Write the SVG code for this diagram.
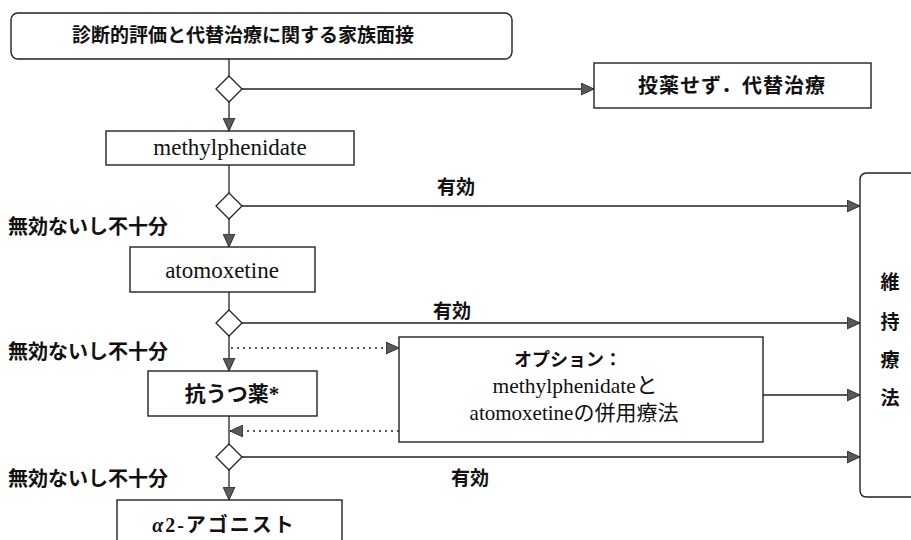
<svg xmlns="http://www.w3.org/2000/svg" width="911" height="540" viewBox="0 0 911 540">
<defs>
<marker id="arr" viewBox="0 0 12 12" refX="12" refY="6" markerWidth="13" markerHeight="13" markerUnits="userSpaceOnUse" orient="auto">
<path d="M0,0.5 L12,6 L0,11.5 Z" fill="#5a5a5a" stroke="#222" stroke-width="0.8"/>
</marker>
</defs>
<style>
.box{fill:#fff;stroke:#222;stroke-width:1.4}
.dia{fill:#fff;stroke:#222;stroke-width:1.3}
.ln{fill:none;stroke:#222;stroke-width:1.3}
.dot{fill:none;stroke:#222;stroke-width:1.3;stroke-dasharray:2 4}
.jp{font-family:"Liberation Serif","Noto Sans CJK JP",serif;font-weight:bold;fill:#111}
.en{font-family:"Liberation Serif","Noto Sans CJK JP",serif;fill:#111}
</style>
<rect width="911" height="540" fill="#fff"/>
<g id="connectors">
<line class="ln" x1="229" y1="59" x2="229" y2="76"/>
<line class="ln" x1="242" y1="89" x2="594" y2="89" marker-end="url(#arr)"/>
<line class="ln" x1="229" y1="102" x2="229" y2="131" marker-end="url(#arr)"/>
<line class="ln" x1="229" y1="165" x2="229" y2="193"/>
<line class="ln" x1="242" y1="206" x2="860" y2="206" marker-end="url(#arr)"/>
<line class="ln" x1="229" y1="219" x2="229" y2="247" marker-end="url(#arr)"/>
<line class="ln" x1="229" y1="292" x2="229" y2="310"/>
<line class="ln" x1="242" y1="323" x2="860" y2="323" marker-end="url(#arr)"/>
<line class="ln" x1="229" y1="336" x2="229" y2="371" marker-end="url(#arr)"/>
<line class="dot" x1="231" y1="348" x2="399" y2="348" marker-end="url(#arr)"/>
<line class="ln" x1="763" y1="395" x2="860" y2="395" marker-end="url(#arr)"/>
<line class="ln" x1="229" y1="416" x2="229" y2="444"/>
<line class="dot" x1="399" y1="431" x2="230" y2="431" marker-end="url(#arr)"/>
<line class="ln" x1="242" y1="457" x2="860" y2="457" marker-end="url(#arr)"/>
<line class="ln" x1="229" y1="470" x2="229" y2="500" marker-end="url(#arr)"/>
</g>
<g id="n-start">
<rect class="box" x="11" y="13" width="501" height="46" rx="7"/>
<text class="jp" x="243" y="42" font-size="19" text-anchor="middle">診断的評価と代替治療に関する家族面接</text>
</g>
<g id="d1"><polygon class="dia" points="229,76 242,89 229,102 216,89"/></g>
<g id="n-nomed">
<rect class="box" x="594" y="63" width="277" height="45"/>
<text class="jp" x="732" y="93" font-size="20" text-anchor="middle" letter-spacing="1">投薬せず．代替治療</text>
</g>
<g id="n-mph">
<rect class="box" x="106" y="131" width="248" height="34"/>
<text class="en" x="230" y="155" font-size="23" text-anchor="middle">methylphenidate</text>
</g>
<g id="d2"><polygon class="dia" points="229,193 242,206 229,219 216,206"/></g>
<g id="l1">
<text class="jp" x="456" y="194" font-size="19" text-anchor="middle">有効</text>
<text class="jp" x="8" y="234" font-size="20">無効ないし不十分</text>
</g>
<g id="n-atx">
<rect class="box" x="130" y="247" width="185" height="45"/>
<text class="en" x="222" y="278" font-size="23" text-anchor="middle">atomoxetine</text>
</g>
<g id="d3"><polygon class="dia" points="229,310 242,323 229,336 216,323"/></g>
<g id="l2">
<text class="jp" x="452" y="318" font-size="19" text-anchor="middle">有効</text>
<text class="jp" x="8" y="359" font-size="20">無効ないし不十分</text>
</g>
<g id="n-ad">
<rect class="box" x="148" y="371" width="169" height="45"/>
<text class="jp" x="232" y="401" font-size="21" text-anchor="middle">抗うつ薬*</text>
</g>
<g id="n-option">
<rect class="box" x="399" y="337" width="364" height="105"/>
<text class="jp" x="514" y="366" font-size="18" letter-spacing="0">オプション：</text>
<text class="en" x="575" y="393" font-size="21.5" text-anchor="middle">methylphenidateと</text>
<text class="en" x="574" y="420" font-size="21" text-anchor="middle">atomoxetineの併用療法</text>
</g>
<g id="d4"><polygon class="dia" points="229,444 242,457 229,470 216,457"/></g>
<g id="l3">
<text class="jp" x="470" y="485" font-size="19" text-anchor="middle">有効</text>
<text class="jp" x="8" y="486" font-size="20">無効ないし不十分</text>
</g>
<g id="n-a2">
<rect class="box" x="117" y="500" width="225" height="50"/>
<text class="jp" x="224" y="532" font-size="20" text-anchor="middle" letter-spacing="2"><tspan font-style="italic">α</tspan>2-アゴニスト</text>
</g>
<g id="n-maint">
<path class="box" d="M915,173 L867,173 Q860,173 860,180 L860,490 Q860,497 867,497 L915,497"/>
<text class="jp" x="890" y="289" font-size="19" text-anchor="middle">維</text>
<text class="jp" x="890" y="329" font-size="19" text-anchor="middle">持</text>
<text class="jp" x="890" y="367" font-size="19" text-anchor="middle">療</text>
<text class="jp" x="890" y="405" font-size="19" text-anchor="middle">法</text>
</g>
</svg>
